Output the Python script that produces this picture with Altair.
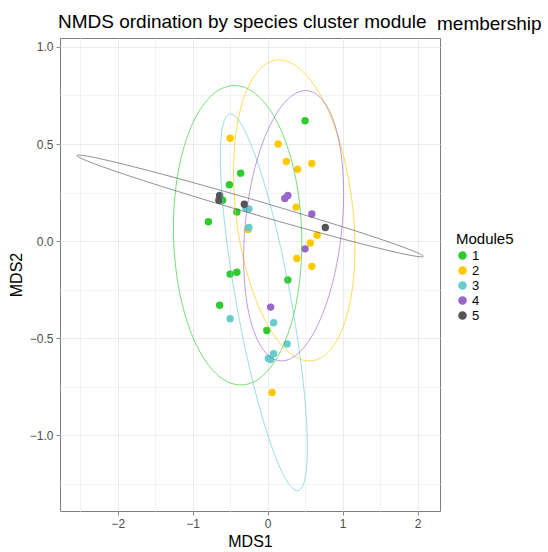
import altair as alt
import numpy as np
import pandas as pd

# NMDS site scores, grouped by species cluster module
mod1_x = [0.50, -0.51, -0.36, -0.60, -0.41, -0.79, -0.50, -0.41, -0.64, 0.27, -0.01]
mod1_y = [0.62, 0.29, 0.35, 0.21, 0.15, 0.10, -0.17, -0.16, -0.33, -0.20, -0.46]
mod2_x = [-0.50, 0.14, 0.25, 0.40, 0.59, 0.38, -0.26, 0.66, 0.57, 0.39, 0.59, 0.06]
mod2_y = [0.53, 0.50, 0.41, 0.37, 0.40, 0.175, 0.06, 0.03, -0.01, -0.09, -0.13, -0.78]
mod3_x = [-0.29, -0.25, -0.25, -0.50, 0.08, 0.26, 0.08, 0.01, 0.04]
mod3_y = [0.17, 0.165, 0.07, -0.40, -0.42, -0.53, -0.58, -0.605, -0.61]
mod4_x = [0.23, 0.27, 0.59, 0.50, 0.04]
mod4_y = [0.22, 0.235, 0.14, -0.04, -0.34]
mod5_x = [-0.64, -0.65, -0.31, 0.77]
mod5_y = [0.235, 0.21, 0.19, 0.07]

modules = ["1", "2", "3", "4", "5"]
module_colors = ["#2ECB2E", "#FFC800", "#66CCCC", "#9966CC", "#555555"]

# 95% confidence ellipse of each module: centre, half-spans along x / y, correlation
ell_cx = [-0.40, 0.355, -0.05, 0.347, -0.233]
ell_cy = [0.03, 0.158, -0.315, 0.079, 0.181]
ell_sx = [0.856, 0.81, 0.58, 0.667, 2.31]
ell_sy = [0.771, 0.775, 0.97, 0.696, 0.262]
ell_rho = [-0.05, -0.25, -0.77, 0.24, -0.99]

x_major = [-2, -1, 0, 1, 2]
x_minor = [-2.5, -1.5, -0.5, 0.5, 1.5]
y_major = [-1.0, -0.5, 0.0, 0.5, 1.0]
y_minor = [-1.25, -0.75, -0.25, 0.25, 0.75]

title_main = ["NMDS ordination by species cluster module"]
title_tail = ["membership"]

xs = [mod1_x, mod2_x, mod3_x, mod4_x, mod5_x]
ys = [mod1_y, mod2_y, mod3_y, mod4_y, mod5_y]
points = pd.DataFrame(
    [{"MDS1": x, "MDS2": y, "Module5": m}
     for m, gx, gy in zip(modules, xs, ys) for x, y in zip(gx, gy)]
)

# ellipse outlines traced from each module's centre/spread
t = np.linspace(0, 2 * np.pi, 181)
rows = []
for m, cx, cy, sx, sy, r in zip(modules, ell_cx, ell_cy, ell_sx, ell_sy, ell_rho):
    ex = cx + sx * np.cos(t)
    ey = cy + sy * (r * np.cos(t) + np.sqrt(1 - r * r) * np.sin(t))
    for i, (a, b) in enumerate(zip(ex, ey)):
        rows.append({"MDS1": a, "MDS2": b, "Module5": m, "step": i})
ellipses = pd.DataFrame(rows)

color_scale = alt.Scale(domain=modules, range=module_colors)

x_axis = alt.Axis(
    title="MDS1",
    values=x_major + x_minor,
    labelExpr="datum.value % 1 === 0 ? format(datum.value, 'd') : ''",
    labelOverlap=False,
    tickOpacity={"condition": {"test": "datum.value % 1 !== 0", "value": 0}, "value": 1},
    gridColor={"condition": {"test": "datum.value % 1 !== 0", "value": "#F3F3F3"}, "value": "#EBEBEB"},
    tickColor="#8C8C8C",
    tickSize=4,
    labelPadding=3,
    labelFontSize=12,
    labelColor="#4D4D4D",
    titleFontSize=16,
    titleFontWeight="normal",
    titleColor="#000000",
    titlePadding=4,
    domain=False,
)
y_axis = alt.Axis(
    title="MDS2",
    values=y_major + y_minor,
    labelExpr="(datum.value * 2) % 1 === 0 ? format(datum.value, '.1f') : ''",
    labelOverlap=False,
    tickOpacity={"condition": {"test": "(datum.value * 2) % 1 !== 0", "value": 0}, "value": 1},
    gridColor={"condition": {"test": "(datum.value * 2) % 1 !== 0", "value": "#F3F3F3"}, "value": "#EBEBEB"},
    tickColor="#8C8C8C",
    tickSize=4,
    labelPadding=3,
    labelFontSize=12,
    labelColor="#4D4D4D",
    titleFontSize=16,
    titleFontWeight="normal",
    titleColor="#000000",
    titlePadding=5,
    domain=False,
)

x_enc = alt.X("MDS1:Q", scale=alt.Scale(domain=[-2.77, 2.3], nice=False, zero=False), axis=x_axis)
y_enc = alt.Y("MDS2:Q", scale=alt.Scale(domain=[-1.39, 1.046], nice=False, zero=False), axis=y_axis)

pts = alt.Chart(points).mark_circle(size=55, opacity=1).encode(
    x=x_enc,
    y=y_enc,
    color=alt.Color(
        "Module5:N",
        scale=color_scale,
        legend=alt.Legend(
            title="Module5",
            orient="none",
            legendX=396,
            legendY=194,
            titleFontSize=15,
            titleFontWeight="normal",
            titleColor="#000000",
            titlePadding=2,
            labelFontSize=13,
            labelColor="#000000",
            labelOffset=3,
            rowPadding=0,
            symbolType="circle",
            symbolSize=50,
            padding=0,
        ),
    ),
)

ell = alt.Chart(ellipses).mark_line(strokeWidth=1, opacity=0.65).encode(
    x="MDS1:Q",
    y="MDS2:Q",
    color=alt.Color("Module5:N", scale=color_scale, legend=None),
    detail="Module5:N",
    order="step:Q",
)

# chart title: the last word runs past the panel's right edge, set slightly lower
head = alt.Chart(pd.DataFrame({"words": title_main})).mark_text(
    align="left", baseline="alphabetic", fontSize=19, color="#000000"
).encode(text="words:N", x=alt.value(-2), y=alt.value(-10.5))

tail = alt.Chart(pd.DataFrame({"words": title_tail})).mark_text(
    align="left", baseline="alphabetic", fontSize=19, color="#000000"
).encode(text="words:N", x=alt.value(377), y=alt.value(-8.5))

chart = (
    alt.layer(pts, ell, head, tail)
    .properties(
        width=380,
        height=473,
        autosize=alt.AutoSizeParams(type="none"),
        padding={"left": 60, "top": 38, "right": 108, "bottom": 41},
    )
    .configure(font="Liberation Sans", background="white")
    .configure_view(stroke="#7F7F7F", strokeWidth=1)
)

chart.save("out.html", embed_options={"renderer": "svg", "actions": False})
